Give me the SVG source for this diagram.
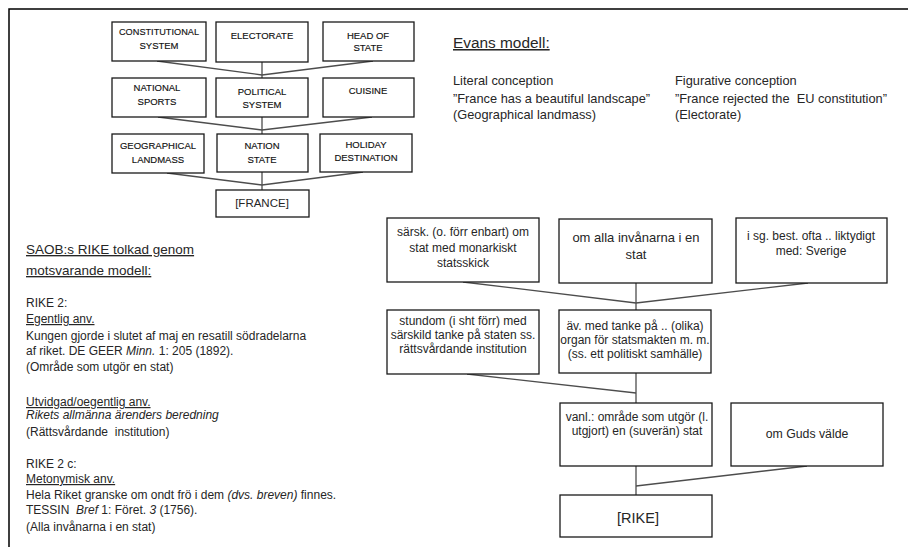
<svg xmlns="http://www.w3.org/2000/svg" width="908" height="547" viewBox="0 0 908 547">
<style>
text{font-family:"Liberation Sans",Arial,sans-serif;fill:#262626}
.box{fill:#fff;stroke:#1a1a1a;stroke-width:1.3}
.cap{font-size:9.5px;text-anchor:middle;fill:#111;stroke:#111;stroke-width:0.15}
.sm{font-size:12px;text-anchor:middle}
.body{font-size:12px}
.ev{font-size:12.8px}
.u{text-decoration:underline}
.conn line{stroke:#4d4d4d;stroke-width:1.3}
</style>
<rect width="908" height="547" fill="#fff"/>
<path d="M908 9H9V547" fill="none" stroke="#000" stroke-width="1.5"/>

<g class="conn" id="connectors">
<line x1="157" y1="61" x2="262" y2="75"/><line x1="373" y1="61" x2="262" y2="75"/><line x1="262" y1="62" x2="262" y2="78"/>
<line x1="158" y1="117" x2="262" y2="130"/><line x1="372" y1="117" x2="262" y2="130"/><line x1="262" y1="117" x2="262" y2="134"/>
<line x1="167" y1="173" x2="262" y2="185"/><line x1="363" y1="172" x2="262" y2="185"/><line x1="262" y1="172" x2="262" y2="190"/>
<line x1="463" y1="282" x2="636" y2="303"/><line x1="808" y1="283" x2="636" y2="303"/><line x1="636" y1="283" x2="636" y2="310"/>
<line x1="467" y1="374" x2="636" y2="393"/><line x1="636" y1="373" x2="636" y2="403"/>
<line x1="807" y1="466" x2="636" y2="486"/><line x1="636" y1="466" x2="636" y2="495"/>
</g>

<g id="n-constitutional"><rect class="box" x="112" y="22" width="94" height="39"/><text class="cap" x="159" y="35" textLength="80" lengthAdjust="spacingAndGlyphs">CONSTITUTIONAL</text><text class="cap" x="159" y="49">SYSTEM</text></g>
<g id="n-electorate"><rect class="box" x="216" y="22" width="92" height="40"/><text class="cap" x="262" y="39">ELECTORATE</text></g>
<g id="n-headofstate"><rect class="box" x="323" y="22" width="91" height="39"/><text class="cap" x="368" y="39">HEAD OF</text><text class="cap" x="368" y="51">STATE</text></g>
<g id="n-sports"><rect class="box" x="112" y="78" width="94" height="39"/><text class="cap" x="157" y="91">NATIONAL</text><text class="cap" x="157" y="105">SPORTS</text></g>
<g id="n-political"><rect class="box" x="216" y="78" width="92" height="39"/><text class="cap" x="262" y="95">POLITICAL</text><text class="cap" x="262" y="108">SYSTEM</text></g>
<g id="n-cuisine"><rect class="box" x="323" y="78" width="91" height="39"/><text class="cap" x="368" y="94">CUISINE</text></g>
<g id="n-geo"><rect class="box" x="112" y="134" width="92" height="39"/><text class="cap" x="158" y="149">GEOGRAPHICAL</text><text class="cap" x="158" y="163">LANDMASS</text></g>
<g id="n-nationstate"><rect class="box" x="217" y="134" width="91" height="38"/><text class="cap" x="262" y="149">NATION</text><text class="cap" x="262" y="163">STATE</text></g>
<g id="n-holiday"><rect class="box" x="320" y="134" width="92" height="38"/><text class="cap" x="366" y="148">HOLIDAY</text><text class="cap" x="366" y="161">DESTINATION</text></g>
<g id="n-france"><rect class="box" x="216" y="190" width="93" height="27"/><text x="262" y="207" font-size="11.5" text-anchor="middle" fill="#111">[FRANCE]</text></g>

<g id="evans">
<text x="453" y="48" font-size="15.4" class="u">Evans modell:</text>
<text class="ev" x="453" y="85">Literal conception</text>
<text class="ev" x="453" y="103">”France has a beautiful landscape”</text>
<text class="ev" x="453" y="119">(Geographical landmass)</text>
<text class="ev" x="675" y="85">Figurative conception</text>
<text class="ev" x="675" y="103">”France rejected the &#160;EU constitution”</text>
<text class="ev" x="675" y="119">(Electorate)</text>
</g>

<g id="saob">
<text x="26" y="254" font-size="13.5" class="u">SAOB:s RIKE tolkad genom</text>
<text x="26" y="275" font-size="13.5" class="u">motsvarande modell:</text>
<text class="body" x="26" y="307">RIKE 2:</text>
<text class="body u" x="26" y="323">Egentlig anv.</text>
<text class="body" x="26" y="340">Kungen gjorde i slutet af maj en resatill södradelarna</text>
<text class="body" x="26" y="355">af riket. DE GEER <tspan font-style="italic">Minn.</tspan> 1: 205 (1892).</text>
<text class="body" x="26" y="371">(Område som utgör en stat)</text>
<text class="body u" x="26" y="406">Utvidgad/oegentlig anv.</text>
<text class="body" x="26" y="419" font-style="italic">Rikets allmänna ärenders beredning</text>
<text class="body" x="26" y="436">(Rättsvårdande &#160;institution)</text>
<text class="body" x="26" y="468">RIKE 2 c:</text>
<text class="body u" x="26" y="483">Metonymisk anv.</text>
<text class="body" x="26" y="499">Hela Riket granske om ondt frö i dem <tspan font-style="italic">(dvs. breven)</tspan> finnes.</text>
<text class="body" x="26" y="514">TESSIN &#160;<tspan font-style="italic">Bref</tspan> 1: Föret. <tspan font-style="italic">3</tspan> (1756).</text>
<text class="body" x="26" y="531">(Alla invånarna i en stat)</text>
</g>

<g id="n-sarsk"><rect class="box" x="387" y="218" width="152" height="64"/><text class="sm" x="463" y="236">särsk. (o. förr enbart) om</text><text class="sm" x="463" y="252">stat med monarkiskt</text><text class="sm" x="463" y="267">statsskick</text></g>
<g id="n-invanarna"><rect class="box" x="559" y="219" width="153" height="64"/><text x="636" y="242" font-size="13" text-anchor="middle">om alla invånarna i en</text><text x="636" y="259" font-size="13" text-anchor="middle">stat</text></g>
<g id="n-sverige"><rect class="box" x="736" y="218" width="151" height="65"/><text class="sm" x="811" y="240">i sg. best. ofta .. liktydigt</text><text class="sm" x="811" y="255">med: Sverige</text></g>
<g id="n-stundom"><rect class="box" x="387" y="310" width="152" height="64"/><text class="sm" x="463" y="325">stundom (i sht förr) med</text><text class="sm" x="463" y="339">särskild tanke på staten ss.</text><text class="sm" x="463" y="353">rättsvårdande institution</text></g>
<g id="n-organ"><rect class="box" x="559" y="310" width="152" height="63"/><text class="sm" x="635" y="330">äv. med tanke på .. (olika)</text><text class="sm" x="635" y="344">organ för statsmakten m. m.</text><text class="sm" x="635" y="358">(ss. ett politiskt samhälle)</text></g>
<g id="n-vanl"><rect class="box" x="560" y="403" width="152" height="63"/><text class="sm" x="637" y="421">vanl.: område som utgör (l.</text><text class="sm" x="637" y="435">utgjort) en (suverän) stat</text></g>
<g id="n-guds"><rect class="box" x="731" y="403" width="152" height="63"/><text x="807" y="438" font-size="12.3" text-anchor="middle">om Guds välde</text></g>
<g id="n-rike"><rect class="box" x="560" y="495" width="152" height="42"/><text x="638" y="523" font-size="14.5" text-anchor="middle">[RIKE]</text></g>
</svg>
